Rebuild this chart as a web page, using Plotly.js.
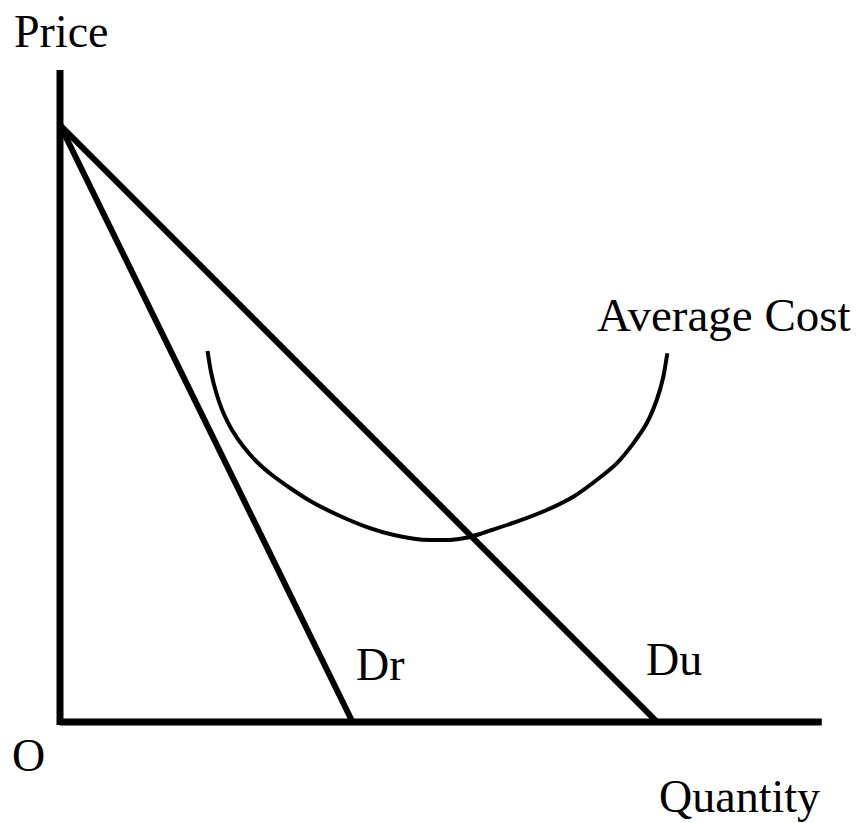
<!DOCTYPE html>
<html>
<head>
<meta charset="utf-8">
<script src="https://cdn.plot.ly/plotly-3.0.1.min.js"></script>
<style>html,body{margin:0;padding:0;background:#fff;}#chart{width:864px;height:823px;}</style>
</head>
<body>
<div id="chart"></div>
<script>
// Axis extents (in chart units)
const axisQMax = 12.76;
const axisPMax = 10.92;
// Demand curves: price intercept and quantity intercepts
const demandNames = ["Dr", "Du"];
const priceIntercept = 10;
const quantityIntercepts = [4.9, 10];
// Average cost curve points
const acQ = [2.471, 2.529, 2.613, 2.730, 2.881, 3.065, 3.283, 3.551, 3.853, 4.221, 4.690, 5.142, 5.595, 6.030, 6.533,
             6.784, 7.035, 7.236, 7.650, 8.152, 8.598, 8.990, 9.325, 9.603, 9.827, 9.995, 10.106, 10.173];
const acP = [6.214, 5.863, 5.528, 5.193, 4.891, 4.623, 4.372, 4.137, 3.920, 3.685, 3.451, 3.266, 3.132, 3.057, 3.049,
             3.082, 3.149, 3.216, 3.355, 3.551, 3.774, 4.054, 4.333, 4.668, 5.003, 5.394, 5.784, 6.176];
// Labels
const labelTexts = ["Price", "O", "Quantity", "Dr", "Du", "Average Cost"];

const traces = [];
// Axes
traces.push({x:[0, axisQMax], y:[0, 0], mode:'lines', line:{color:'#000', width:7}, hoverinfo:'skip'});
traces.push({x:[0, 0], y:[-0.05, axisPMax], mode:'lines', line:{color:'#000', width:7}, hoverinfo:'skip'});
// Demand lines
quantityIntercepts.forEach((qi, i) => {
  traces.push({x:[0, qi], y:[priceIntercept, 0], mode:'lines', name:demandNames[i], line:{color:'#000', width:6}, hoverinfo:'skip'});
});
// Average cost
traces.push({x:acQ, y:acP, mode:'lines', name:'Average Cost', line:{color:'#000', width:4, shape:'spline', smoothing:0.6}, hoverinfo:'skip'});

const fnt = {family:'"Liberation Serif", "Times New Roman", serif', size:46, color:'#000'};
const labelPos = [
  [-0.80, 11.56], [-0.536, -0.553], [10.0, -1.256], [4.93, 0.955], [9.78, 1.055], [8.96, 6.817]
];
const annotations = labelTexts.map((t, i) => ({
  x: labelPos[i][0], y: labelPos[i][1], xref:'x', yref:'y', text:t, showarrow:false,
  xanchor: t === 'O' ? 'center' : 'left', yanchor:'middle',
  font: t === 'Average Cost' ? Object.assign({}, fnt, {size:47}) : fnt
}));

const layout = {
  width:864, height:823,
  margin:{l:0, r:0, t:0, b:0},
  paper_bgcolor:'#fff', plot_bgcolor:'#fff',
  showlegend:false,
  xaxis:{range:[-1.005, 13.467], visible:false, fixedrange:true},
  yaxis:{range:[-1.692, 12.094], visible:false, fixedrange:true},
  annotations: annotations
};
Plotly.newPlot('chart', traces, layout, {displayModeBar:false, staticPlot:true});
</script>
</body>
</html>
